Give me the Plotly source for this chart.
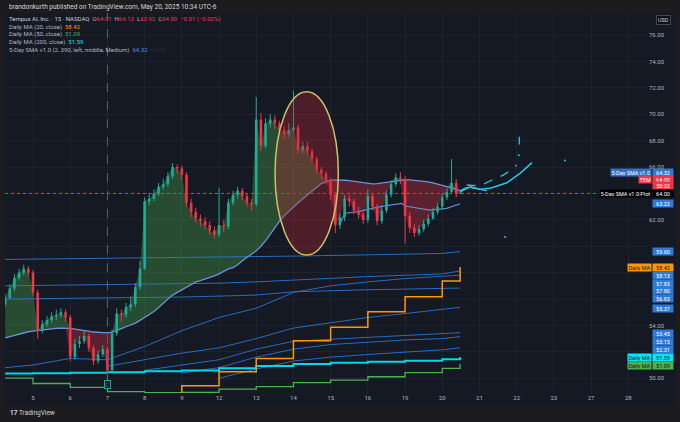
import plotly.graph_objects as go

# 15-minute TEM chart, shown here as 8 bars per session day.
# bar 0 sits in the last part of May 2, day 0 = May 5 session start
bar_start = -0.75
bars_per_day = 8
first_open = 55.6

close = [56.1, 56.8, 57.6, 58.0, 58.3, 58.0, 56.5, 53.6, 54.1, 54.4,
         54.7, 54.8, 55.0, 54.6, 51.6, 52.6, 52.8, 53.2, 52.3, 51.3,
         51.8, 52.2, 50.6, 53.4, 54.9, 54.8, 55.4, 55.6, 56.9, 58.3,
         63.4, 63.6, 64.0, 64.5, 64.7, 65.3, 66.0, 65.9, 65.4, 63.3,
         62.6, 62.1, 61.9, 61.6, 61.2, 60.9, 61.6, 61.5, 63.3, 63.9,
         64.2, 63.8, 63.3, 63.2, 69.6, 67.6, 69.3, 69.6, 69.3, 68.8,
         68.5, 68.8, 69.0, 67.3, 67.6, 67.2, 66.6, 65.8, 65.5, 65.0,
         63.9, 61.6, 62.2, 63.6, 63.4, 62.7, 62.4, 62.0, 63.8, 63.0,
         61.9, 62.7, 63.9, 64.7, 65.2, 65.1, 62.3, 61.4, 61.0, 61.3,
         61.7, 62.1, 62.6, 63.0, 63.7, 64.1, 64.8, 64.0, 64.0]
high = [56.4, 57.1, 57.9, 58.3, 58.6, 58.5, 58.2, 56.7, 54.4, 54.7,
        55.0, 55.2, 55.3, 55.2, 54.8, 53.0, 53.2, 53.6, 53.4, 52.5,
        52.1, 52.5, 52.4, 53.7, 55.3, 55.2, 55.7, 56.2, 57.2, 58.9,
        63.7, 64.0, 64.3, 64.8, 65.1, 65.6, 66.3, 66.2, 66.1, 65.6,
        63.6, 62.9, 62.4, 62.2, 61.9, 61.5, 64.4, 62.0, 63.6, 64.2,
        64.5, 64.4, 64.0, 63.6, 71.3, 70.1, 69.7, 70.0, 69.9, 69.5,
        69.1, 69.3, 71.8, 69.2, 67.9, 67.9, 67.4, 66.8, 66.0, 65.7,
        65.2, 64.1, 62.5, 63.9, 63.9, 63.6, 63.0, 62.6, 64.3, 64.0,
        63.2, 63.0, 64.2, 65.0, 65.5, 65.6, 65.3, 62.6, 61.7, 61.6,
        62.0, 62.4, 62.9, 63.3, 64.0, 64.4, 66.6, 65.1, 64.13]
low = [55.4, 56.0, 56.6, 57.4, 57.8, 57.7, 56.2, 53.0, 53.4, 53.9,
       54.2, 54.4, 54.6, 54.3, 51.3, 51.4, 52.3, 52.6, 52.0, 51.0,
       51.1, 51.6, 49.9, 50.5, 53.2, 54.3, 54.6, 55.1, 55.4, 56.7,
       58.2, 63.1, 63.4, 63.8, 64.3, 64.5, 65.1, 65.5, 65.0, 63.0,
       62.2, 61.8, 61.5, 61.3, 60.9, 60.6, 60.7, 61.1, 61.3, 63.1,
       63.6, 63.5, 63.0, 62.7, 63.0, 67.2, 67.4, 69.0, 68.9, 68.5,
       68.1, 68.3, 68.6, 67.0, 67.0, 66.9, 66.3, 65.5, 65.1, 64.7,
       63.5, 61.0, 61.3, 61.9, 63.0, 62.4, 62.1, 61.7, 61.8, 62.7,
       61.6, 61.7, 62.5, 63.7, 64.5, 64.7, 60.2, 61.0, 60.7, 60.8,
       61.1, 61.5, 62.0, 62.4, 62.8, 63.5, 64.0, 63.7, 63.92]
sma5 = [53.05, 53.15, 53.25, 53.35, 53.45, 53.52, 53.57, 53.62, 53.66, 53.7,
        53.74, 53.77, 53.8, 53.8, 53.78, 53.72, 53.65, 53.6, 53.56, 53.5,
        53.47, 53.45, 53.44, 53.5, 53.6, 53.75, 53.9, 54.02, 54.18, 54.38,
        54.6, 54.8, 55.05, 55.35, 55.7, 56.0, 56.3, 56.5, 56.68, 56.9,
        57.1, 57.3, 57.4, 57.5, 57.6, 57.75, 57.9, 58.1, 58.28, 58.38,
        58.6, 58.9, 59.15, 59.4, 59.65, 60.0, 60.4, 60.9, 61.4, 61.9,
        62.3, 62.65, 63.0, 63.3, 63.6, 63.9, 64.2, 64.5, 64.75, 64.9,
        65.0, 65.03, 65.03, 65.0, 64.97, 64.92, 64.85, 64.78, 64.72, 64.72,
        64.75, 64.8, 64.85, 64.9, 64.95, 65.0, 65.03, 65.03, 65.0, 64.98,
        64.95, 64.88, 64.8, 64.72, 64.62, 64.52, 64.42, 64.3, 64.2]

# session boundaries (May 2 tail, May 5 ... May 20, last bar)
ma_days = [-0.75, 0, 1, 2, 3, 4, 5, 6, 7, 8, 9, 10, 11, 11.48]
daily_ma20 = [None, None, None, None, 48.3, 49.43, 50.49, 51.5, 52.84, 53.86, 55.04, 56.17, 57.36, 58.42]
daily_ma50 = [50.0, 49.6, 49.3, 48.98, 48.9, 48.92, 49.18, 49.36, 49.66, 49.86, 50.11, 50.42, 50.75, 51.09]
daily_ma200 = [50.35, 50.38, 50.42, 50.46, 50.52, 50.58, 50.75, 50.92, 51.08, 51.17, 51.25, 51.33, 51.43, 51.59]
blue_lines = [
    [59.0, 59.02, 59.05, 59.07, 59.1, 59.12, 59.15, 59.2, 59.25, 59.3, 59.35, 59.4, 59.45, 59.6],
    [57.0, 57.03, 57.06, 57.08, 57.1, 57.15, 57.2, 57.3, 57.45, 57.6, 57.7, 57.8, 57.9, 58.13],
    [56.0, 56.02, 56.05, 56.06, 56.08, 56.15, 56.22, 56.3, 56.55, 56.65, 56.7, 56.75, 56.8, 56.83],
    [50.8, 51.0, 51.5, 51.4, 52.4, 53.6, 54.6, 55.3, 56.5, 57.0, 57.3, 57.55, 57.72, 57.8],
    [None, None, None, 50.9, 51.4, 51.9, 52.3, 53.0, 53.8, 54.2, 54.6, 54.9, 55.2, 55.37],
    [None, None, None, None, 50.6, 51.0, 51.4, 52.2, 52.8, 52.95, 53.1, 53.2, 53.35, 53.45],
    [None, None, None, None, None, 50.4, 50.8, 51.6, 52.2, 52.55, 52.75, 52.9, 53.0, 53.15],
    [None, None, None, None, None, None, 50.0, 50.7, 51.3, 51.6, 51.8, 51.95, 52.15, 52.31],
]

# lower band of the 5-day SMA tool
band_days = [8.25, 8.39, 8.70, 9.33, 9.91, 10.0, 10.67, 11.12, 11.48]
band_vals = [61.73, 62.5, 62.6, 63.0, 63.25, 63.05, 62.74, 62.87, 63.22]

# projection drawn past the last bar
proj_days = [11.48, 11.75, 12.02, 12.29, 12.74, 13.09, 13.41]
proj_vals = [64.13, 64.5, 64.31, 64.39, 64.81, 65.52, 66.33]
proj2_days = [11.66, 12.02, 12.28, 12.46, 12.64, 12.87, 13.0]
proj2_vals = [64.64, 64.56, 64.94, 65.14, 65.39, 65.82, 66.15]
sma_tail_days = [11.48, 11.6, 11.75, 11.9, 12.05, 12.2]
sma_tail_vals = [64.2, 64.4, 64.45, 64.35, 64.28, 64.2]

day_labels = ["5", "6", "7", "8", "9", "12", "13", "14", "15", "16",
              "19", "20", "21", "22", "23", "27", "28"]
price_ticks = [50, 52, 54, 56, 58, 60, 62, 64, 66, 68, 70, 72, 74, 76]
hidden_ticks = [52, 56, 58, 60, 64]

tag_values = ["64.32", "64.00", "50:32", "64.00", "63.22", "59.60", "58.42", "58.13",
              "57.83", "57.80", "56.83", "55.37", "53.45", "53.15", "52.31", "51.59", "51.09"]
tag_names = ["5-Day SMA v1.0", "TEM", None, "5-Day SMA v1.0:Plot", None, None, "Daily MA", None,
             None, None, None, None, None, None, None, "Daily MA", "Daily MA"]

W, H = 680, 422
ML, MR, MT, MB = 5, 32, 13, 29
PW, PH = W - ML - MR, H - MT - MB
BG = "#151924"
BLUE = "#2f7ad6"
UP, DOWN = "#22ab94", "#f23645"
TAG_COL = {"64.32": BLUE, "64.00": "#f23645", "50:32": "#f23645", "58.42": "#ff9800",
           "51.59": "#00e5f5", "51.09": "#4caf50"}
# stacked label rows on the price scale (in price units)
tag_y = [65.62, 65.07, 64.62, 64.01, 63.25, 59.58, 58.40, 57.80, 57.19, 56.63, 56.05,
         55.30, 53.40, 52.80, 52.19, 51.58, 50.98]


def px(xp):
    return (xp - ML) / PW


def py(yp):
    return (H - MB - yp) / PH


bar_x = [bar_start + i / bars_per_day for i in range(len(close))]
opens = [first_open] + close[:-1]
upper = [max(c, s) for c, s in zip(close, sma5)]
lower = [min(c, s) for c, s in zip(close, sma5)]

fig = go.Figure()

# fills between price and the 5-day SMA
fig.add_trace(go.Scatter(x=bar_x, y=sma5, mode="lines", line=dict(width=0), hoverinfo="skip"))
fig.add_trace(go.Scatter(x=bar_x, y=upper, mode="lines", line=dict(width=0), fill="tonexty",
                         fillcolor="rgba(76,175,80,0.34)", hoverinfo="skip"))
fig.add_trace(go.Scatter(x=bar_x, y=sma5, mode="lines", line=dict(width=0), hoverinfo="skip"))
fig.add_trace(go.Scatter(x=bar_x, y=lower, mode="lines", line=dict(width=0), fill="tonexty",
                         fillcolor="rgba(242,54,69,0.32)", hoverinfo="skip"))

for vals in blue_lines:
    fig.add_trace(go.Scatter(x=ma_days, y=vals, mode="lines", line=dict(color=BLUE, width=1),
                             opacity=0.85))

fig.add_trace(go.Scatter(x=ma_days, y=daily_ma50, mode="lines", line=dict(color="#4caf50", width=1.3, shape="hv")))
fig.add_trace(go.Scatter(x=ma_days, y=daily_ma200, mode="lines", line=dict(color="#00d8e8", width=2, shape="hv")))
fig.add_trace(go.Scatter(x=ma_days, y=daily_ma20, mode="lines", line=dict(color="#ff9800", width=1.5, shape="hv")))

fig.add_trace(go.Scatter(x=bar_x, y=sma5, mode="lines", line=dict(color="#6b93d6", width=1.3)))
fig.add_trace(go.Scatter(x=band_days, y=band_vals, mode="lines", line=dict(color="#5b8fd8", width=1.2)))

# thin candles: wicks and bodies as vertical segments
for is_up, col in ((True, UP), (False, DOWN)):
    wx, wy, bx, by = [], [], [], []
    for x, o, h, l, c in zip(bar_x, opens, high, low, close):
        if (c >= o) != is_up:
            continue
        wx += [x, x, None]
        wy += [l, h, None]
        bx += [x, x, None]
        by += [o, c if abs(c - o) > 0.06 else o + 0.06, None]
    fig.add_trace(go.Scatter(x=wx, y=wy, mode="lines", line=dict(color=col, width=1), hoverinfo="skip"))
    fig.add_trace(go.Scatter(x=bx, y=by, mode="lines", line=dict(color=col, width=2.6), hoverinfo="skip"))

fig.add_trace(go.Scatter(x=sma_tail_days, y=sma_tail_vals, mode="lines", line=dict(color="#8ec9f0", width=1)))
fig.add_trace(go.Scatter(x=proj_days, y=proj_vals, mode="lines", line=dict(color="#29c5e6", width=1.5)))
fig.add_trace(go.Scatter(x=proj2_days, y=proj2_vals, mode="lines", line=dict(color="#29c5e6", width=1.3, dash="dash")))
fig.add_trace(go.Scatter(x=[13.07, 13.07], y=[67.7, 68.3], mode="lines", line=dict(color="#29c5e6", width=1.3)))
fig.add_trace(go.Scatter(x=[13.06, 14.30, 12.69], y=[66.9, 66.5, 60.7], mode="markers",
                         marker=dict(color="#29c5e6", size=2)))

shapes = [
    dict(type="rect", xref="paper", yref="paper", x0=px(4), x1=px(676), y0=py(405), y1=1,
         fillcolor=BG, line=dict(width=0), layer="below"),
    dict(type="line", xref="paper", yref="y", x0=0, x1=1, y0=64.0, y1=64.0,
         line=dict(color="#f23645", width=1, dash="dot")),
    dict(type="line", xref="x", yref="paper", x0=2.0, x1=2.0, y0=py(380), y1=1,
         line=dict(color="#5d606b", width=1, dash="dash")),
    dict(type="circle", xref="x", yref="y", x0=6.505, x1=8.207, y0=59.33, y1=71.70,
         fillcolor="rgba(190,40,55,0.33)", line=dict(color="#c9c46a", width=1.5), layer="above"),
]

ann = []
ann.append(dict(xref="paper", yref="paper", x=px(7), y=py(7), xanchor="left", yanchor="middle",
                text="brandonkurth published on TradingView.com, May 20, 2025 10:34 UTC-6",
                font=dict(size=6.5, color="#d1d4dc"), showarrow=False))
red = "#f23645"
legend_rows = [
    ("<span style='color:#c9ccd4'>Tempus AI, Inc. · 15 · NASDAQ</span>  "
     f"O<span style='color:{red}'>64.01</span>  H<span style='color:{red}'>64.13</span>  "
     f"L<span style='color:{red}'>63.92</span>  C<span style='color:{red}'>64.00</span>  "
     f"<span style='color:{red}'>−0.01 (−0.02%)</span>", 19),
    ("Daily MA (20, close)  <span style='color:#ff9800'>58.42</span>", 27),
    ("Daily MA (50, close)  <span style='color:#4caf50'>51.09</span>", 34),
    ("Daily MA (200, close)  <span style='color:#00e5f5'>51.59</span>", 42),
    ("5-Day SMA v1.0 (2, 390, left, middle, Medium)  <span style='color:#4f8fe0'>64.32</span>"
     "  <span style='color:#2a2d36'>64.00</span>", 50),
]
for txt, yy in legend_rows:
    ann.append(dict(xref="paper", yref="paper", x=px(7), y=py(yy), xanchor="left", yanchor="middle",
                    text=txt, font=dict(size=6, color="#b2b5be"), showarrow=False))

for val, name, yy in zip(tag_values, tag_names, tag_y):
    col = TAG_COL.get(val, BLUE)
    if name == "5-Day SMA v1.0:Plot":
        col = "#000000"
    dark = col in ("#ff9800", "#00e5f5", "#4caf50")
    fc = "#131722" if dark else "#ffffff"
    ann.append(dict(xref="paper", yref="y", x=px(652), y=yy, xanchor="left", yanchor="middle",
                    text=val, bgcolor=col, font=dict(size=5.5, color=fc), showarrow=False,
                    width=19, height=6, borderpad=0.5))
    if name:
        ncol = "#3570c4" if name == "5-Day SMA v1.0" else col
        ann.append(dict(xref="paper", yref="y", x=px(651.5), y=yy, xanchor="right", yanchor="middle",
                        text=name, bgcolor=ncol, font=dict(size=5.5, color=fc), showarrow=False,
                        height=6, borderpad=0.5))

ann.append(dict(xref="paper", yref="paper", x=px(663), y=py(20), xanchor="center", yanchor="middle",
                text="USD", bgcolor="#0e1015", bordercolor="#434651", borderwidth=1, borderpad=1,
                font=dict(size=5.5, color="#d1d4dc"), showarrow=False))
ann.append(dict(xref="x", yref="paper", x=2.0, y=py(384), xanchor="center", yanchor="middle",
                text="C", bgcolor=BG, bordercolor="#26a69a", borderwidth=1, borderpad=0.5,
                font=dict(size=5, color="#26a69a"), showarrow=False))
ann.append(dict(xref="paper", yref="paper", x=px(8), y=py(413), xanchor="left", yanchor="middle",
                text="<b>17</b> TradingView", font=dict(size=6.5, color="#d1d4dc"), showarrow=False))

fig.update_layout(
    width=W, height=H, margin=dict(l=ML, r=MR, t=MT, b=MB),
    paper_bgcolor="#1c1c1e", plot_bgcolor=BG, showlegend=False,
    font=dict(family="Roboto", size=6, color="#b2b5be"),
    shapes=shapes, annotations=ann,
    xaxis=dict(range=[-0.753, 16.53], tickvals=list(range(len(day_labels))), ticktext=day_labels,
               showgrid=True, gridcolor="#1f2330", zeroline=False, showline=False,
               tickfont=dict(size=6, color="#b2b5be"), fixedrange=True),
    yaxis=dict(range=[48.88, 77.67], side="right", tickvals=price_ticks,
               ticktext=["" if t in hidden_ticks else f"{t:.2f}" for t in price_ticks],
               showgrid=True, gridcolor="#1f2330", zeroline=False, showline=False,
               tickfont=dict(size=6, color="#b2b5be"), automargin=False, fixedrange=True),
)

# the page body has a default 8px margin; drop it so the figure sits at 0,0
fig.write_html("out.html", config={"displayModeBar": False},
               post_script="document.body.style.margin='0';document.body.style.overflow='hidden';")
